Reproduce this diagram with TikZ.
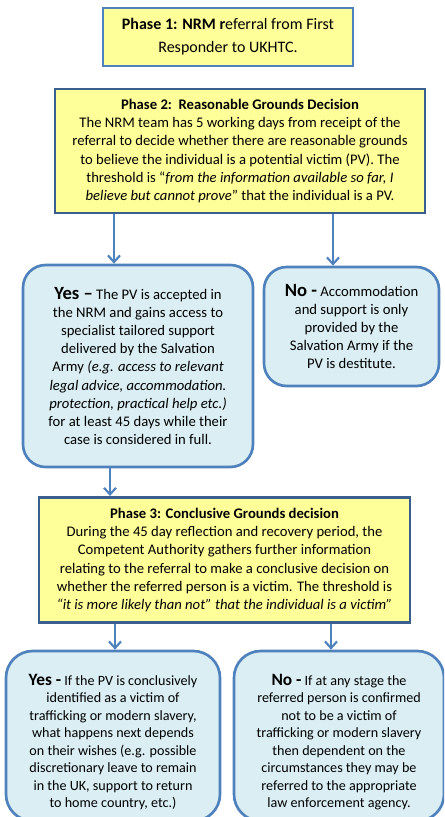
\documentclass[tikz,border=0pt]{standalone}
\usepackage{fontspec}
\setmainfont{Carlito}
\usetikzlibrary{arrows.meta}
\definecolor{phaseyellow}{HTML}{FFFF99}
\definecolor{outcomeblue}{HTML}{DAEEF3}
\definecolor{lineblue}{HTML}{4F81BD}
\definecolor{darkblue}{HTML}{3A5F8E}
\newcommand{\bodysize}{\fontsize{11}{13.6}\selectfont}
\newcommand{\smallbody}{\fontsize{10.6}{13.1}\selectfont}

\begin{document}
\begin{tikzpicture}[x=0.75pt, y=-0.75pt]
  \tikzset{phasebox/.style={draw=darkblue, line width=2.2pt, fill=phaseyellow,
      align=center, inner sep=0pt, font=\bodysize},
    outcome/.style={draw=lineblue, line width=2pt, fill=outcomeblue,
      rounded corners=17pt, align=center, inner sep=0pt, font=\bodysize},
    outcometext/.style={align=center, inner sep=0pt, font=\smallbody},
    arr/.style={draw=lineblue, line width=1.6pt,
      -{Straight Barb[length=5pt,width=9pt,line width=1.6pt]}}}
  \useasboundingbox (0,0) rectangle (444,817);
  \clip (0,0) rectangle (444,817);
  \node[phasebox, draw=lineblue, minimum width=187.5pt, minimum height=43.5pt,
    font=\fontsize{12}{17.3}\selectfont] (phase1) at (228,37)
    {\textbf{Phase 1: NRM r}eferral from First\\Responder to UKHTC.};
  \node[phasebox, minimum width=277.5pt, minimum height=93pt] (phase2) at (240,151)
    {\textbf{Phase 2:\ \ Reasonable Grounds Decision}\\
     The NRM team has 5 working days from receipt of the\\
     referral to decide whether there are reasonable grounds\\
     to believe the individual is a potential victim (PV). The\\
     threshold is ``\textit{from the information available so far, I}\\
     \textit{believe but cannot prove}'' that the individual is a PV.};
  \node[outcome, minimum width=172.5pt, minimum height=151.5pt] (yes1) at (138,366)
    {{\fontsize{14}{13.6}\selectfont\textbf{Yes --}} The PV is accepted in\\
     the NRM and gains access to\\
     specialist tailored support\\
     delivered by the Salvation\\
     Army \textit{(e.g. access to relevant}\\
     \textit{legal advice, accommodation.}\\
     \textit{protection, practical help etc.)}\\
     for at least 45 days while their\\
     case is considered in full.};
  \node[outcome, minimum width=131.25pt, minimum height=89.25pt] (no1) at (351.5,326.5)
    {{\fontsize{14}{13.6}\selectfont\textbf{No -}} Accommodation\\
     and support is only\\
     provided by the\\
     Salvation Army if the\\
     PV is destitute.};
  \node[phasebox, minimum width=278.25pt, minimum height=93.75pt] (phase3) at (224.5,560)
    {\textbf{Phase 3: Conclusive Grounds decision}\\
     During the 45 day reflection and recovery period, the\\
     Competent Authority gathers further information\\
     relating to the referral to make a conclusive decision on\\
     whether the referred person is a victim. The threshold is\\
     \textit{``it is more likely than not'' that the individual is a victim''}};
  % bottom boxes run off the page
  \node[outcome, rounded corners=20pt, minimum width=160.5pt, minimum height=127.5pt] (yes2) at (113,736) {};
  \node[outcome, rounded corners=20pt, minimum width=157.5pt, minimum height=127.5pt] (no2) at (339,736) {};
  \node[outcometext] (yes2text) at (113,742)
    {{\fontsize{13}{13.1}\selectfont\textbf{Yes -}} If the PV is conclusively\\
     identified as a victim of\\
     trafficking or modern slavery,\\
     what happens next depends\\
     on their wishes (e.g. possible\\
     discretionary leave to remain\\
     in the UK, support to return\\
     to home country, etc.)};
  \node[outcometext] (no2text) at (339,742)
    {{\fontsize{13}{13.1}\selectfont\textbf{No -}} If at any stage the\\
     referred person is confirmed\\
     not to be a victim of\\
     trafficking or modern slavery\\
     then dependent on the\\
     circumstances they may be\\
     referred to the appropriate\\
     law enforcement agency.};
  % connectors
  \draw[arr] (phase2.south -| 114,0) -- (yes1.north -| 114,0);
  \draw[arr] (phase2.south -| 333,0) -- (no1.north -| 333,0);
  \draw[arr] (yes1.south -| 110,0) -- (phase3.north -| 110,0);
  \draw[arr] (phase3.south -| 115,0) -- (yes2.north -| 115,0);
  \draw[arr] (phase3.south -| 331,0) -- (no2.north -| 331,0);
\end{tikzpicture}
\end{document}
